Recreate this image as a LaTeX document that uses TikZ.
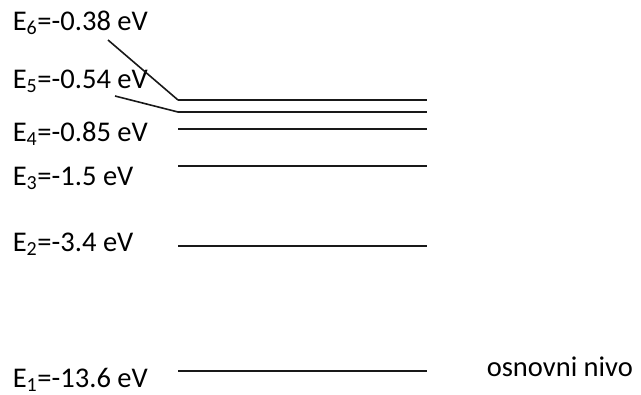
\documentclass[tikz,border=0pt]{standalone}
\usepackage{fontspec}
\setmainfont{Carlito}
\usepackage{tikz}

\begin{document}
\begin{tikzpicture}[x=0.75pt, y=-0.75pt,
      lbl/.style={anchor=base west, inner sep=0pt, font=\fontsize{21.4}{24}\selectfont},
      lvl/.style={line width=1.4pt, draw=black!90},
      lead/.style={line width=1.2pt, draw=black!90}]
      \useasboundingbox (0,0) rectangle (641,394);
      % energy labels
      \node[lbl] (e6) at (12.5,30.7) {E\textsubscript{6}=-0.38 eV};
      \node[lbl] (e5) at (12.5,88.3) {E\textsubscript{5}=-0.54 eV};
      \node[lbl] (e4) at (12.5,141.7) {E\textsubscript{4}=-0.85 eV};
      \node[lbl] (e3) at (12.5,185) {E\textsubscript{3}=-1.5 eV};
      \node[lbl] (e2) at (12.5,251) {E\textsubscript{2}=-3.4 eV};
      \node[lbl] (e1) at (12.5,387) {E\textsubscript{1}=-13.6 eV};
      \node[lbl] (gnd) at (486.5,376.7) {osnovni nivo};
      % levels
      \coordinate (a6) at (178,100);  \coordinate (b6) at (427,100);
      \coordinate (a5) at (178,112);  \coordinate (b5) at (427,112);
      \coordinate (a4) at (178,129);  \coordinate (b4) at (427,129);
      \coordinate (a3) at (178,166);  \coordinate (b3) at (427,166);
      \coordinate (a2) at (178,246);  \coordinate (b2) at (427,246);
      \coordinate (a1) at (178,371);  \coordinate (b1) at (427,371);
      \draw[lvl] (a6)--(b6);
      \draw[lvl] (a5)--(b5);
      \draw[lvl] (a4)--(b4);
      \draw[lvl] (a3)--(b3);
      \draw[lvl] (a2)--(b2);
      \draw[lvl] (a1)--(b1);
      % leaders
      \coordinate (t6) at (108,40);
      \coordinate (t5) at (115,96);
      \draw[lead] (t6)--(a6);
      \draw[lead] (t5)--(a5);
    \end{tikzpicture}
\end{document}
